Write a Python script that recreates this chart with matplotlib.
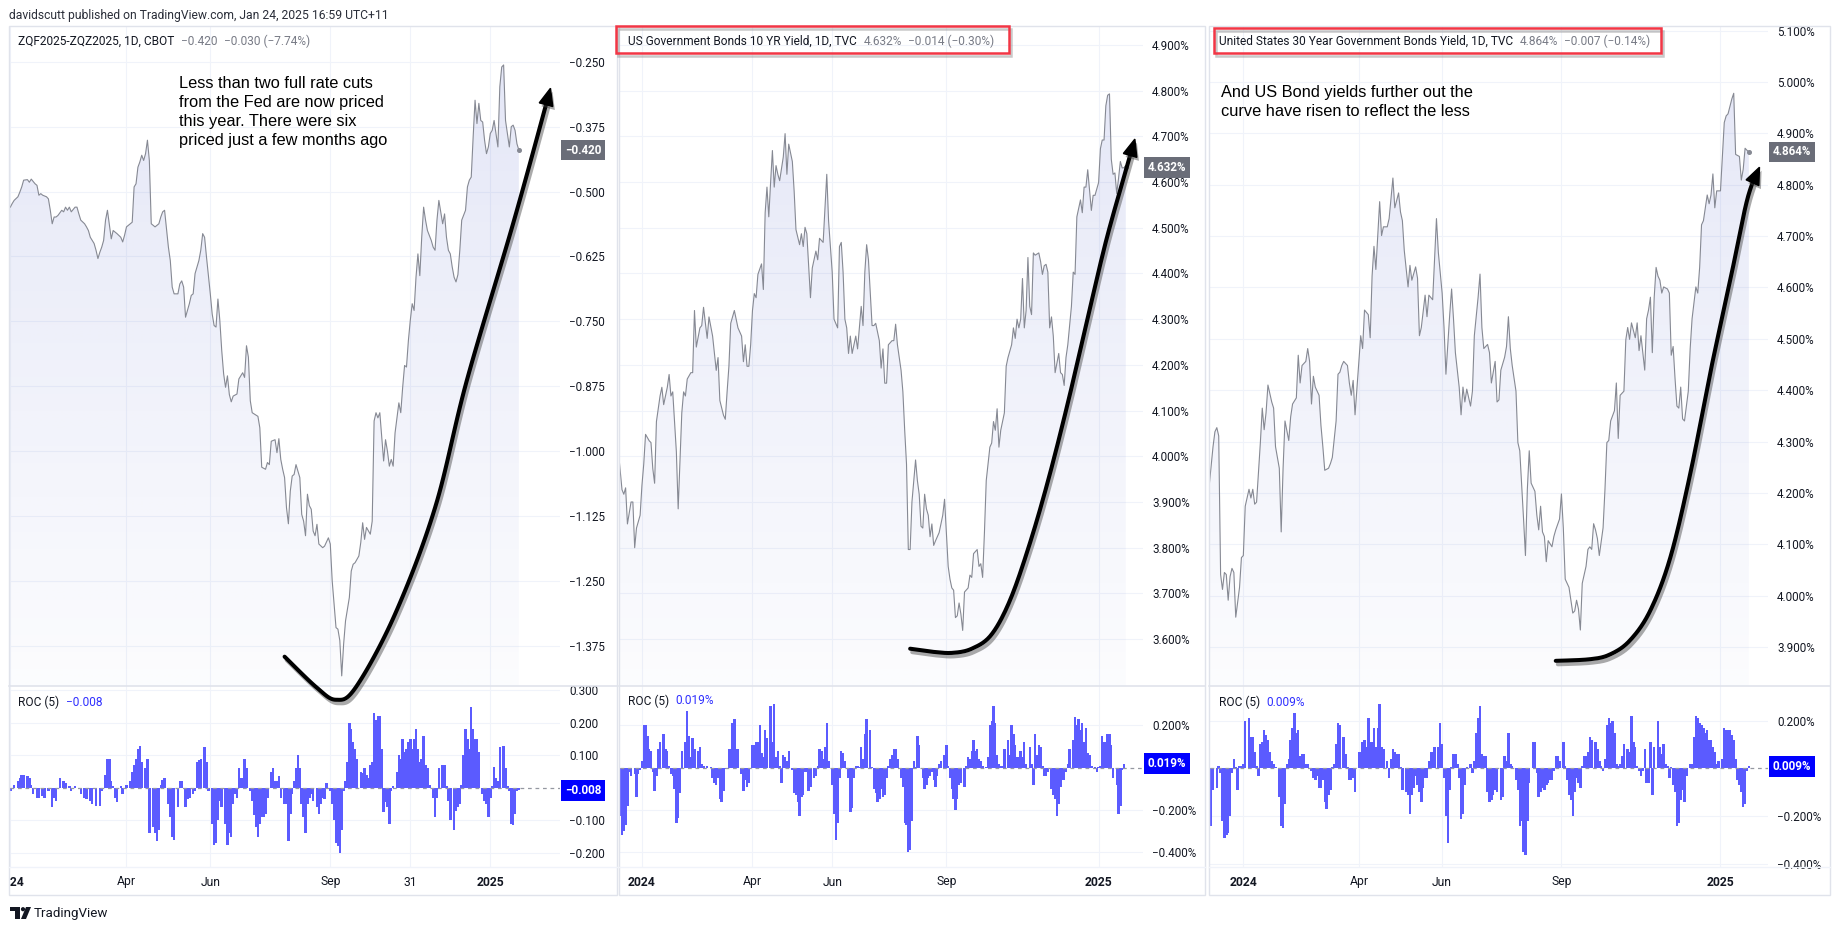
import numpy as np
import matplotlib
matplotlib.use("Agg")
import matplotlib.pyplot as plt
from matplotlib import patheffects as pe
from matplotlib import transforms
from matplotlib.patches import Rectangle, Polygon, Circle
from matplotlib.transforms import Bbox, TransformedBbox

W, H = 1841, 931
plt.rcParams["font.family"] = ["Roboto", "DejaVu Sans"]

# ---------------- data (trading-day index, 0 = first session of 2024) ----------------
zq_day = [0, 1, 2, 4, 5, 6, 7, 9, 10, 11, 13, 14, 15, 16, 17, 19, 20, 21, 22, 23, 24, 25, 27, 28, 29, 30,
          31, 32, 34, 35, 36, 37, 39, 40, 41, 42, 44, 45, 46, 47, 48, 49, 50, 51, 53, 54, 55, 56, 58, 59,
          60, 61, 63, 64, 65, 66, 67, 68, 69, 70, 71, 72, 73, 74, 75, 76, 78, 79, 80, 81, 83, 84, 85, 86,
          88, 89, 90, 91, 92, 94, 95, 96, 97, 99, 100, 101, 102, 103, 105, 106, 107, 108, 109, 110, 111,
          112, 113, 114, 115, 116, 117, 119, 120, 122, 123, 124, 125, 126, 127, 130, 131, 132, 134, 135,
          136, 137, 139, 140, 141, 142, 143, 144, 145, 146, 147, 148, 149, 150, 152, 153, 154, 155, 156,
          157, 158, 159, 160, 161, 162, 164, 165, 167, 168, 169, 171, 172, 173, 174, 175, 176, 178, 179,
          180, 181, 183, 184, 185, 186, 187, 189, 190, 191, 192, 193, 194, 196, 197, 198, 199, 200, 201,
          202, 203, 204, 205, 206, 207, 208, 209, 210, 211, 212, 213, 214, 215, 216, 217, 218, 219, 221,
          222, 223, 224, 225, 227, 228, 229, 230, 231, 232, 233, 234, 235, 236, 237, 239, 240, 241, 242,
          243, 244, 245, 246, 247, 248, 249, 250, 251, 252, 253, 254, 256, 257, 258, 259, 260, 262, 263,
          264, 265, 266, 267]
zq_val = [-0.530, -0.523, -0.517, -0.510, -0.501, -0.491, -0.478, -0.477, -0.482, -0.476, -0.485, -0.488,
          -0.507, -0.504, -0.507, -0.510, -0.514, -0.536, -0.562, -0.549, -0.549, -0.546, -0.536, -0.539,
          -0.530, -0.536, -0.530, -0.539, -0.530, -0.530, -0.543, -0.555, -0.562, -0.568, -0.575, -0.588,
          -0.600, -0.613, -0.629, -0.617, -0.607, -0.594, -0.555, -0.536, -0.591, -0.575, -0.578, -0.581,
          -0.588, -0.597, -0.584, -0.568, -0.562, -0.559, -0.491, -0.485, -0.453, -0.443, -0.430, -0.440,
          -0.427, -0.401, -0.440, -0.562, -0.565, -0.568, -0.562, -0.549, -0.539, -0.536, -0.607, -0.633,
          -0.684, -0.697, -0.697, -0.678, -0.672, -0.684, -0.742, -0.716, -0.700, -0.697, -0.658, -0.633,
          -0.613, -0.581, -0.588, -0.626, -0.697, -0.736, -0.758, -0.761, -0.707, -0.748, -0.806, -0.851,
          -0.877, -0.855, -0.891, -0.905, -0.894, -0.890, -0.861, -0.849, -0.858, -0.797, -0.819, -0.903,
          -0.926, -0.933, -0.955, -1.031, -1.035, -1.022, -1.026, -0.981, -0.978, -1.003, -0.976, -1.016,
          -1.035, -1.051, -1.109, -1.140, -1.077, -1.048, -1.045, -1.026, -1.051, -1.122, -1.135, -1.163,
          -1.083, -1.105, -1.112, -1.154, -1.163, -1.141, -1.179, -1.186, -1.183, -1.167, -1.179, -1.250,
          -1.340, -1.343, -1.365, -1.433, -1.372, -1.327, -1.282, -1.231, -1.218, -1.215, -1.202, -1.176,
          -1.138, -1.170, -1.147, -1.160, -1.135, -0.942, -0.926, -0.936, -0.926, -1.019, -0.978, -1.000,
          -1.029, -1.016, -1.029, -0.965, -0.936, -0.907, -0.926, -0.877, -0.835, -0.838, -0.787, -0.748,
          -0.716, -0.729, -0.665, -0.620, -0.662, -0.588, -0.530, -0.555, -0.575, -0.594, -0.607, -0.613,
          -0.555, -0.517, -0.562, -0.543, -0.588, -0.613, -0.620, -0.645, -0.665, -0.674, -0.660, -0.613,
          -0.555, -0.536, -0.491, -0.478, -0.472, -0.395, -0.324, -0.369, -0.330, -0.363, -0.366, -0.401,
          -0.427, -0.414, -0.388, -0.382, -0.363, -0.414, -0.298, -0.260, -0.256, -0.363, -0.414, -0.375,
          -0.372, -0.382, -0.408, -0.420]

zq_roc_day = [0, 2, 4, 5, 6, 7, 9, 10, 11, 12, 14, 15, 17, 18, 20, 22, 23, 24, 26, 28, 29, 31, 32, 34, 36,
              37, 39, 40, 42, 43, 45, 47, 48, 50, 51, 52, 53, 54, 55, 56, 58, 59, 61, 63, 64, 65, 66, 67,
              68, 69, 71, 72, 73, 75, 76, 77, 78, 79, 80, 81, 83, 84, 85, 86, 88, 89, 90, 92, 93, 94, 96,
              97, 98, 99, 100, 102, 103, 104, 106, 107, 108, 109, 110, 111, 113, 114, 115, 116, 117, 118,
              119, 120, 121, 122, 123, 124, 126, 127, 128, 129, 130, 131, 132, 133, 134, 135, 137, 138,
              139, 140, 141, 142, 144, 145, 146, 147, 148, 149, 150, 151, 152, 153, 154, 155, 156, 157,
              158, 159, 161, 162, 163, 164, 165, 166, 168, 169, 170, 171, 172, 173, 174, 175, 176, 177,
              178, 179, 180, 181, 182, 184, 185, 186, 187, 188, 189, 190, 191, 192, 193, 194, 195, 196,
              197, 198, 199, 200, 201, 203, 204, 205, 206, 207, 208, 209, 210, 211, 212, 213, 214, 215,
              216, 217, 218, 219, 220, 222, 223, 224, 225, 227, 228, 229, 230, 231, 233, 234, 235, 236,
              237, 238, 239, 240, 241, 242, 243, 244, 245, 246, 248, 249, 250, 251, 252, 253, 254, 255,
              256, 257, 259, 260, 261, 262, 263, 264, 265, 266, 267]
zq_roc = [-0.01, 0.01, 0.02, 0.03, 0.04, 0.04, 0.035, 0.03, 0.01, -0.02, -0.03, -0.03, -0.025, -0.03,
          -0.01, -0.06, -0.03, -0.04, 0.03, 0.02, 0.015, 0.005, -0.01, 0.005, -0.005, -0.02, -0.03, -0.035,
          -0.04, -0.05, -0.055, -0.055, -0.01, 0.04, 0.09, 0.09, 0.02, 0.005, -0.03, -0.045, 0.005, -0.02,
          0.01, 0.02, 0.05, 0.07, 0.09, 0.12, 0.13, 0.08, 0.06, 0.09, -0.14, -0.12, -0.14, -0.165, -0.13,
          0.01, 0.025, 0.03, -0.05, -0.09, -0.15, -0.16, -0.06, 0.02, 0.02, -0.06, -0.035, -0.03, -0.02,
          -0.01, 0.08, 0.085, 0.09, 0.125, 0.08, -0.01, -0.11, -0.175, -0.17, -0.10, -0.04, -0.06, -0.11,
          -0.175, -0.14, -0.15, -0.05, -0.02, -0.03, 0.06, 0.03, 0.03, 0.09, 0.06, -0.01, -0.04, -0.085,
          -0.12, -0.15, -0.11, -0.09, -0.09, -0.08, -0.03, 0.05, 0.06, 0.02, 0.02, 0.035, -0.03, -0.05,
          -0.05, -0.165, -0.08, -0.02, 0.02, 0.06, 0.10, 0.06, -0.05, -0.09, -0.14, -0.05, -0.03, -0.02,
          -0.04, -0.06, -0.08, -0.05, -0.03, -0.035, 0.015, -0.01, -0.05, -0.10, -0.17, -0.18, -0.20,
          -0.13, -0.01, 0.02, 0.08, 0.20, 0.18, 0.14, 0.12, 0.09, 0.05, 0.045, 0.06, 0.04, 0.03, 0.07,
          0.08, 0.23, 0.21, 0.22, 0.22, 0.12, -0.075, -0.045, -0.06, -0.11, -0.01, 0.005, 0.05, 0.10,
          0.09, 0.15, 0.11, 0.12, 0.14, 0.15, 0.12, 0.15, 0.18, 0.12, 0.08, 0.09, 0.16, 0.07, 0.06, 0.01,
          -0.03, -0.09, -0.03, 0.06, 0.07, 0.07, 0.005, -0.04, -0.10, -0.13, -0.07, -0.06, -0.05, 0.01,
          0.10, 0.18, 0.15, 0.12, 0.25, 0.18, 0.15, 0.15, 0.11, -0.02, -0.04, -0.05, -0.09, -0.03, 0.005,
          0.065, 0.03, 0.02, 0.125, 0.13, 0.06, 0.005, -0.01, -0.11, -0.115, -0.08, -0.01, -0.008]

us10_day = [-13, -11, -10, -9, -8, -6, -5, -4, -3, -1, 0, 1, 2, 4, 5, 6, 7, 8, 10, 11, 12, 14, 15, 16, 17,
            18, 19, 20, 22, 23, 24, 25, 27, 28, 29, 30, 32, 33, 34, 36, 37, 39, 41, 42, 43, 45, 46, 47, 48,
            49, 51, 53, 55, 56, 57, 58, 59, 60, 61, 62, 63, 64, 66, 67, 68, 69, 70, 71, 72, 73, 74, 75, 76,
            78, 79, 80, 81, 83, 84, 85, 87, 88, 89, 90, 91, 93, 94, 96, 97, 98, 100, 101, 102, 103, 105,
            106, 108, 109, 110, 111, 112, 113, 114, 115, 116, 118, 119, 121, 122, 123, 124, 125, 127, 128,
            129, 131, 132, 133, 134, 135, 136, 138, 139, 140, 141, 143, 144, 145, 146, 147, 148, 149, 150,
            151, 152, 153, 154, 155, 156, 157, 158, 159, 160, 161, 162, 163, 164, 166, 167, 168, 169, 170,
            171, 172, 173, 174, 175, 176, 177, 178, 180, 181, 182, 183, 185, 186, 187, 188, 189, 190, 192,
            193, 194, 195, 196, 197, 198, 200, 201, 202, 204, 205, 206, 207, 208, 209, 210, 211, 212, 213,
            214, 215, 216, 217, 219, 220, 221, 222, 223, 224, 225, 226, 227, 228, 230, 231, 232, 233, 234,
            235, 237, 238, 239, 240, 242, 243, 244, 245, 246, 248, 249, 250, 252, 253, 254, 255, 256, 257,
            258, 259, 260, 261, 262, 263, 264, 265, 267]
us10_val = [4.011, 3.927, 3.917, 3.931, 3.852, 3.900, 3.900, 3.800, 3.843, 3.871, 3.936, 3.983, 4.048,
            4.034, 4.030, 3.973, 3.941, 4.076, 4.132, 4.151, 4.113, 4.151, 4.179, 4.132, 4.141, 4.076,
            4.010, 3.885, 4.095, 4.141, 4.132, 4.169, 4.183, 4.183, 4.319, 4.239, 4.281, 4.286, 4.326,
            4.258, 4.305, 4.263, 4.188, 4.216, 4.122, 4.090, 4.081, 4.141, 4.197, 4.291, 4.319, 4.281,
            4.263, 4.207, 4.244, 4.197, 4.197, 4.244, 4.319, 4.356, 4.347, 4.398, 4.421, 4.365, 4.533,
            4.589, 4.524, 4.599, 4.669, 4.589, 4.636, 4.617, 4.603, 4.655, 4.706, 4.617, 4.683, 4.645,
            4.580, 4.496, 4.463, 4.487, 4.459, 4.501, 4.487, 4.347, 4.412, 4.449, 4.430, 4.477, 4.468,
            4.543, 4.617, 4.515, 4.403, 4.300, 4.281, 4.459, 4.468, 4.403, 4.300, 4.281, 4.225, 4.263,
            4.225, 4.263, 4.235, 4.328, 4.286, 4.403, 4.463, 4.430, 4.286, 4.286, 4.291, 4.253, 4.193,
            4.235, 4.160, 4.160, 4.244, 4.253, 4.253, 4.289, 4.244, 4.188, 4.141, 4.057, 3.983, 3.796,
            3.796, 3.900, 3.947, 3.992, 3.947, 3.917, 3.847, 3.843, 3.917, 3.885, 3.871, 3.824, 3.852,
            3.805, 3.815, 3.824, 3.833, 3.871, 3.906, 3.833, 3.759, 3.731, 3.712, 3.707, 3.647, 3.651,
            3.679, 3.655, 3.619, 3.703, 3.712, 3.740, 3.735, 3.787, 3.796, 3.759, 3.765, 3.735, 3.833,
            3.947, 4.020, 4.029, 4.076, 4.057, 4.104, 4.020, 4.057, 4.095, 4.197, 4.216, 4.244, 4.281,
            4.258, 4.300, 4.281, 4.300, 4.389, 4.281, 4.319, 4.435, 4.328, 4.310, 4.445, 4.440, 4.445,
            4.426, 4.398, 4.417, 4.420, 4.403, 4.281, 4.305, 4.263, 4.183, 4.225, 4.183, 4.179, 4.155,
            4.216, 4.244, 4.328, 4.403, 4.398, 4.524, 4.561, 4.533, 4.589, 4.589, 4.627, 4.538, 4.571,
            4.571, 4.599, 4.673, 4.692, 4.692, 4.767, 4.790, 4.793, 4.650, 4.617, 4.620, 4.575, 4.608,
            4.645, 4.631, 4.632]

us10_roc_day = [-12, -11, -10, -9, -8, -7, -6, -4, -3, -2, -1, 0, 1, 2, 3, 4, 5, 6, 7, 8, 9, 10, 12, 13,
                14, 15, 16, 17, 18, 19, 20, 21, 22, 24, 25, 26, 27, 28, 29, 31, 32, 33, 34, 36, 38, 39,
                40, 41, 42, 43, 44, 45, 46, 48, 49, 50, 51, 52, 53, 55, 56, 57, 58, 59, 61, 62, 63, 64,
                65, 66, 67, 68, 69, 71, 72, 73, 74, 75, 76, 77, 78, 79, 80, 81, 83, 84, 85, 86, 87, 88,
                89, 90, 91, 92, 93, 95, 96, 97, 98, 99, 100, 101, 102, 103, 105, 106, 107, 108, 109, 110,
                111, 112, 114, 115, 116, 117, 118, 119, 120, 121, 122, 123, 124, 126, 127, 128, 129, 130,
                131, 132, 133, 134, 135, 136, 137, 138, 139, 140, 141, 143, 144, 145, 146, 147, 148, 149,
                150, 151, 152, 153, 155, 156, 157, 158, 159, 160, 161, 162, 163, 164, 165, 167, 168, 169,
                170, 171, 172, 173, 174, 175, 176, 178, 179, 180, 181, 182, 183, 184, 185, 186, 187, 188,
                190, 191, 192, 193, 194, 195, 196, 197, 198, 199, 200, 202, 203, 204, 205, 206, 207, 208,
                209, 210, 211, 212, 214, 215, 216, 217, 218, 219, 220, 221, 222, 223, 224, 226, 227, 228,
                229, 230, 231, 232, 233, 234, 235, 236, 238, 239, 240, 241, 242, 243, 244, 245, 246, 247,
                248, 250, 251, 252, 253, 254, 255, 256, 257, 258, 259, 260, 262, 263, 264, 265, 266]
us10_roc = [-0.23, -0.32, -0.30, -0.27, -0.18, -0.02, -0.04, -0.03, -0.14, -0.03, -0.01, 0.03, 0.20, 0.20,
            0.15, 0.09, 0.08, -0.02, -0.11, -0.04, 0.09, 0.12, 0.16, 0.09, 0.08, 0.01, -0.03, -0.04, -0.10,
            -0.26, -0.24, -0.12, 0.08, 0.12, 0.27, 0.15, 0.05, 0.14, 0.09, 0.08, 0.10, 0.02, 0.01, 0.01,
            0.005, -0.05, -0.07, -0.08, -0.05, -0.15, -0.16, -0.11, -0.005, 0.09, 0.09, 0.21, 0.23, 0.09,
            0.09, -0.03, -0.11, -0.06, -0.09, -0.07, 0.11, 0.11, 0.12, 0.12, 0.20, 0.07, 0.05, 0.18, 0.14,
            0.29, 0.12, 0.30, 0.05, 0.08, 0.01, -0.07, 0.06, 0.05, 0.03, 0.08, -0.01, -0.12, -0.13, -0.16,
            -0.23, -0.14, -0.13, -0.02, -0.02, -0.11, -0.09, -0.05, -0.04, 0.01, 0.09, 0.08, 0.04, 0.10,
            0.21, 0.03, -0.08, -0.22, -0.34, -0.26, -0.05, 0.08, 0.07, 0.03, -0.05, -0.21, -0.19, -0.05,
            0.01, 0.01, 0.005, 0.10, 0.04, 0.16, 0.23, 0.18, 0.005, -0.10, -0.12, -0.16, -0.15, -0.10,
            -0.14, -0.13, -0.05, 0.01, 0.04, 0.06, 0.09, 0.09, 0.04, -0.05, -0.09, -0.26, -0.27, -0.40,
            -0.39, -0.25, 0.03, 0.005, 0.15, 0.11, -0.05, -0.10, -0.08, -0.05, -0.04, -0.02, -0.06, -0.09,
            -0.04, 0.02, 0.03, 0.06, 0.11, 0.01, -0.05, -0.10, -0.15, -0.20, -0.15, -0.08, -0.07, -0.09,
            0.01, 0.05, 0.04, 0.08, 0.13, 0.08, 0.09, 0.04, 0.03, 0.01, 0.005, 0.05, 0.20, 0.22, 0.29, 0.21,
            0.06, 0.02, 0.01, 0.01, 0.09, 0.13, 0.06, 0.20, 0.16, 0.11, 0.05, 0.05, 0.08, 0.05, 0.12, 0.02,
            0.10, 0.02, -0.08, 0.16, 0.06, 0.11, 0.10, 0.01, -0.04, -0.04, -0.02, -0.10, -0.13, -0.15,
            -0.23, -0.17, -0.09, -0.06, -0.06, -0.02, 0.02, 0.09, 0.13, 0.24, 0.20, 0.23, 0.18, 0.21, 0.12,
            0.19, 0.07, 0.06, 0.01, 0.005, -0.02, 0.005, 0.01, 0.15, 0.12, 0.12, 0.16, 0.16, 0.11, -0.05,
            -0.08, -0.22, -0.18, -0.01, 0.019]

us30_day = [-18, -16, -15, -14, -13, -12, -11, -10, -9, -8, -7, -6, -5, -4, -2, -1, 0, 1, 3, 4, 5, 6, 7, 9,
            10, 11, 12, 13, 15, 16, 17, 19, 20, 21, 22, 24, 25, 26, 28, 29, 30, 31, 33, 34, 35, 36, 37, 38,
            40, 41, 42, 43, 45, 46, 47, 49, 50, 51, 52, 53, 55, 56, 57, 58, 59, 61, 62, 63, 64, 66, 67, 68,
            69, 70, 72, 73, 74, 76, 77, 79, 80, 82, 83, 84, 85, 87, 88, 89, 91, 92, 93, 94, 96, 97, 98,
            100, 101, 102, 103, 105, 106, 107, 109, 110, 111, 112, 114, 115, 116, 117, 118, 120, 121, 122,
            124, 125, 126, 127, 129, 130, 131, 133, 134, 135, 136, 138, 139, 140, 141, 142, 144, 145, 146,
            148, 149, 150, 151, 152, 154, 155, 156, 157, 158, 159, 160, 161, 163, 164, 165, 167, 168, 169,
            170, 171, 172, 174, 175, 176, 177, 178, 179, 181, 182, 183, 184, 185, 186, 187, 188, 190, 191,
            192, 193, 194, 196, 197, 198, 199, 201, 202, 203, 204, 205, 207, 208, 209, 210, 212, 213, 214,
            215, 216, 217, 218, 219, 220, 221, 222, 224, 225, 226, 227, 228, 229, 230, 231, 232, 233, 235,
            236, 237, 239, 240, 241, 242, 243, 245, 246, 247, 248, 249, 250, 252, 253, 254, 255, 256, 258,
            259, 260, 262, 263, 264, 265, 266, 267]
us30_val = [4.215, 4.290, 4.319, 4.327, 4.311, 4.041, 4.012, 4.045, 4.041, 3.991, 4.037, 4.053, 4.045,
            3.958, 4.016, 4.074, 4.078, 4.174, 4.207, 4.190, 4.207, 4.178, 4.182, 4.298, 4.365, 4.323,
            4.356, 4.410, 4.377, 4.365, 4.290, 4.248, 4.124, 4.248, 4.340, 4.302, 4.348, 4.373, 4.385,
            4.468, 4.414, 4.448, 4.456, 4.481, 4.456, 4.373, 4.427, 4.406, 4.390, 4.331, 4.290, 4.244,
            4.248, 4.257, 4.269, 4.340, 4.431, 4.435, 4.448, 4.456, 4.448, 4.414, 4.390, 4.419, 4.352,
            4.456, 4.506, 4.481, 4.556, 4.547, 4.502, 4.622, 4.680, 4.635, 4.767, 4.701, 4.718, 4.718,
            4.734, 4.813, 4.755, 4.784, 4.747, 4.730, 4.672, 4.601, 4.643, 4.614, 4.640, 4.618, 4.506,
            4.522, 4.585, 4.543, 4.585, 4.576, 4.655, 4.734, 4.668, 4.589, 4.522, 4.431, 4.547, 4.597,
            4.539, 4.473, 4.406, 4.352, 4.406, 4.377, 4.402, 4.369, 4.398, 4.506, 4.581, 4.626, 4.522,
            4.481, 4.489, 4.473, 4.414, 4.456, 4.377, 4.381, 4.439, 4.464, 4.485, 4.543, 4.481, 4.448,
            4.398, 4.298, 4.282, 4.149, 4.078, 4.207, 4.282, 4.219, 4.203, 4.157, 4.128, 4.174, 4.124,
            4.115, 4.066, 4.107, 4.095, 4.115, 4.128, 4.149, 4.198, 4.132, 4.032, 4.024, 4.016, 3.966,
            3.970, 3.991, 3.974, 3.933, 4.024, 4.057, 4.090, 4.095, 4.090, 4.140, 4.128, 4.111, 4.078,
            4.132, 4.207, 4.298, 4.302, 4.340, 4.360, 4.414, 4.306, 4.390, 4.398, 4.498, 4.522, 4.499,
            4.531, 4.502, 4.531, 4.477, 4.506, 4.439, 4.539, 4.556, 4.581, 4.473, 4.581, 4.639, 4.622,
            4.614, 4.589, 4.601, 4.597, 4.589, 4.468, 4.485, 4.423, 4.369, 4.365, 4.406, 4.344, 4.340,
            4.398, 4.481, 4.539, 4.601, 4.589, 4.639, 4.722, 4.730, 4.780, 4.763, 4.780, 4.821, 4.755,
            4.788, 4.788, 4.855, 4.921, 4.934, 4.938, 4.967, 4.978, 4.859, 4.855, 4.809, 4.830, 4.871,
            4.867, 4.864]

us30_roc_day = [-17, -16, -14, -13, -12, -11, -10, -9, -8, -7, -6, -5, -4, -3, -2, -1, 0, 1, 3, 4, 5, 6,
                7, 8, 9, 10, 11, 12, 13, 14, 15, 16, 17, 19, 20, 21, 22, 23, 24, 25, 26, 27, 28, 29, 30,
                31, 32, 33, 34, 36, 37, 38, 39, 40, 41, 42, 43, 44, 45, 46, 47, 48, 49, 50, 51, 53, 54,
                55, 56, 57, 58, 59, 61, 62, 63, 64, 65, 66, 67, 68, 69, 70, 71, 72, 73, 74, 76, 77, 78,
                79, 80, 81, 82, 83, 84, 86, 87, 88, 89, 90, 91, 92, 93, 94, 95, 96, 97, 98, 99, 100, 101,
                103, 104, 105, 106, 107, 108, 109, 110, 111, 112, 113, 114, 115, 116, 117, 118, 120, 121,
                122, 123, 124, 125, 126, 127, 128, 129, 130, 131, 132, 133, 134, 136, 137, 138, 139, 140,
                141, 142, 144, 145, 146, 147, 148, 149, 150, 151, 153, 154, 155, 156, 157, 158, 159, 160,
                161, 162, 163, 164, 165, 166, 167, 169, 170, 171, 172, 173, 174, 175, 176, 177, 178, 179,
                180, 181, 182, 183, 184, 186, 187, 188, 189, 190, 191, 192, 193, 194, 195, 196, 197, 198,
                199, 200, 201, 203, 204, 205, 206, 207, 208, 209, 210, 211, 212, 213, 214, 215, 216, 217,
                219, 220, 221, 222, 223, 224, 225, 226, 227, 228, 229, 230, 231, 232, 233, 234, 236, 237,
                238, 239, 240, 241, 242, 243, 244, 245, 246, 247, 248, 249, 250, 251, 253, 254, 255, 256,
                257, 258, 259, 260, 261, 262, 263, 264, 265, 266, 267]
us30_roc = [-0.24, -0.09, -0.08, 0.01, -0.02, -0.22, -0.29, -0.28, -0.27, -0.20, -0.02, 0.04, 0.005, -0.09,
            0.01, 0.01, 0.02, 0.20, 0.21, 0.13, 0.13, 0.07, 0.01, -0.03, 0.10, 0.11, 0.16, 0.14, 0.12, 0.07,
            0.03, 0.02, 0.005, -0.12, -0.24, -0.25, -0.15, 0.02, 0.04, 0.12, 0.17, 0.23, 0.15, 0.16, 0.05,
            0.06, 0.06, 0.02, 0.02, -0.01, -0.04, -0.05, -0.03, -0.08, -0.08, -0.05, -0.14, -0.17, -0.11,
            -0.09, 0.005, 0.02, 0.10, 0.19, 0.18, 0.13, 0.06, 0.005, -0.05, -0.05, -0.04, -0.10, 0.07, 0.07,
            0.11, 0.12, 0.09, 0.21, 0.11, 0.11, 0.17, 0.09, 0.17, 0.27, 0.09, 0.08, 0.03, -0.04, 0.04, 0.08,
            0.07, 0.06, 0.06, 0.005, -0.09, -0.10, -0.11, -0.19, -0.11, -0.08, -0.03, -0.07, -0.10, -0.14,
            -0.08, -0.04, -0.04, 0.03, 0.07, 0.07, 0.09, 0.09, 0.19, 0.10, -0.04, -0.20, -0.31, -0.09,
            0.005, 0.06, 0.06, 0.02, -0.04, -0.21, -0.19, -0.07, 0.005, 0.02, -0.02, 0.03, 0.15, 0.21, 0.26,
            0.06, 0.05, 0.05, -0.10, -0.14, -0.13, -0.11, -0.09, -0.10, -0.13, -0.12, 0.05, 0.03, 0.15,
            0.02, 0.01, -0.05, -0.09, -0.24, -0.22, -0.35, -0.36, -0.22, -0.06, 0.11, 0.11, -0.02, -0.12,
            -0.10, -0.08, -0.09, -0.07, -0.06, -0.05, -0.05, -0.01, 0.05, 0.05, 0.03, 0.11, 0.01, -0.05,
            -0.11, -0.13, -0.20, -0.10, -0.04, -0.06, -0.08, 0.01, 0.05, 0.05, 0.07, 0.13, 0.12, 0.11, 0.08,
            0.03, 0.01, -0.01, 0.04, 0.18, 0.21, 0.19, 0.20, 0.15, 0.02, 0.01, 0.02, 0.05, 0.10, 0.08, 0.07,
            0.22, 0.11, 0.09, 0.01, -0.01, -0.03, -0.01, 0.08, -0.06, -0.06, 0.11, -0.11, 0.09, 0.20, 0.09,
            0.06, 0.10, 0.02, 0.01, -0.04, 0.005, -0.07, -0.10, -0.24, -0.23, -0.13, -0.09, -0.14, -0.03,
            0.02, 0.02, 0.13, 0.22, 0.21, 0.19, 0.18, 0.17, 0.15, 0.16, 0.12, 0.12, 0.09, 0.07, 0.02, 0.03,
            0.04, 0.17, 0.16, 0.16, 0.16, 0.14, 0.12, 0.04, -0.05, -0.07, -0.10, -0.16, -0.15, -0.01, 0.009]

zq_ticks = [-0.25, -0.375, -0.5, -0.625, -0.75, -0.875, -1.0, -1.125, -1.25, -1.375]
us10_ticks = [4.9, 4.8, 4.7, 4.6, 4.5, 4.4, 4.3, 4.2, 4.1, 4.0, 3.9, 3.8, 3.7, 3.6]
us30_ticks = [5.1, 5.0, 4.9, 4.8, 4.7, 4.6, 4.5, 4.4, 4.3, 4.2, 4.1, 4.0, 3.9]
zq_roc_ticks = [0.3, 0.2, 0.1, -0.1, -0.2]
bond_roc_ticks = [0.2, -0.2, -0.4]

zq_dates = [0, 61, 105, 168, 210, 252]
zq_date_labels = ["2024", "Apr", "Jun", "Sep", "31", "2025"]
bond_dates = [0, 61, 105, 168, 252]
bond_date_labels = ["2024", "Apr", "Jun", "Sep", "2025"]

# ---------------- style ----------------
TXT = "#131722"
GREY = "#787b86"
GRID = "#f0f3fa"
BORDER = "#e0e3eb"
LINE = "#868993"
BARS = "#5b5bff"
FILL = (0.36, 0.42, 0.80)
TOP, SEP, BOT, FRAME_BOT = 26, 686, 867, 895


def fx(x):
    return x / W


def fy(y):
    return 1 - y / H


def minus(s):
    return s.replace("-", "\u2212")


fig = plt.figure(figsize=(W / 100, H / 100), dpi=100)
fig.patch.set_facecolor("white")
ov = fig.add_axes([0, 0, 1, 1], zorder=10)
ov.set_xlim(0, W)
ov.set_ylim(H, 0)
ov.axis("off")
ov.patch.set_alpha(0)
renderer = fig.canvas.get_renderer()


def catmull(pts, n=16):
    p = np.vstack([pts[0], pts, pts[-1]])
    out = []
    t = np.linspace(0, 1, n, endpoint=False)[:, None]
    for i in range(1, len(p) - 2):
        p0, p1, p2, p3 = p[i - 1], p[i], p[i + 1], p[i + 2]
        out.append(0.5 * (2 * p1 + (-p0 + p2) * t + (2 * p0 - 5 * p1 + 4 * p2 - p3) * t ** 2
                          + (-p0 + 3 * p1 - 3 * p2 + p3) * t ** 3))
    out.append(p[-2][None])
    return np.vstack(out)


def draw_arrow(ax, pts):
    d = ax.transData.transform(np.asarray(pts, float))
    d[:, 1] = H - d[:, 1]
    c = catmull(d)
    tip = c[-1]
    u = tip - c[-6]
    u = u / np.hypot(*u)
    base = tip - u * 17
    keep = c[((c - base) @ u) < 0]
    line = np.vstack([keep, base])
    shadow = [pe.SimpleLineShadow(offset=(1.5, -2.5), shadow_color="#444", alpha=0.45), pe.Normal()]
    ov.plot(line[:, 0], line[:, 1], color="black", lw=2.9, solid_capstyle="round",
            path_effects=shadow, zorder=5)
    nrm = np.array([-u[1], u[0]])
    head = np.array([tip, base + nrm * 7, base - nrm * 7])
    ov.add_patch(Polygon(head, closed=True, fc="black", ec="black", lw=1, zorder=6,
                         path_effects=[pe.SimplePatchShadow(offset=(1.5, -2.5), shadow_rgbFace="#444",
                                                            alpha=0.45), pe.Normal()]))


def text_run(x, y, parts, size=8.6, gap=6.5):
    for s, c in parts:
        t = fig.text(fx(x), fy(y), s, color=c, fontsize=size, va="center", ha="left")
        x += t.get_window_extent(renderer).width + gap


def tag(ax, y, s, fc):
    tr = transforms.offset_copy(transforms.blended_transform_factory(ax.transAxes, ax.transData),
                                fig=fig, x=5, y=0, units="dots")
    ax.text(1.0, y, s, transform=tr, ha="left", va="center", color="white", fontsize=8.4,
            fontweight="bold", zorder=8, clip_on=False,
            bbox=dict(boxstyle="square,pad=0.32", fc=fc, ec="none"))


def panel(x0, x1, frame_x1, day, val, xlim, plim, pticks, pfmt, rday, roc, rlim, rticks, rfmt,
          dates, date_labels, last_txt, roc_txt):
    axp = fig.add_axes([fx(x0), fy(SEP), (x1 - x0) / W, (SEP - TOP) / H])
    axr = fig.add_axes([fx(x0), fy(BOT), (x1 - x0) / W, (BOT - SEP) / H])
    for ax in (axp, axr):
        ax.set_xlim(*xlim)
        for s in ax.spines.values():
            s.set_visible(False)
        ax.yaxis.tick_right()
        ax.set_xticks(dates)
        ax.tick_params(length=0, labelsize=8.4, labelcolor=TXT, pad=6.5)
        ax.tick_params(axis="x", labelbottom=False)
        ax.grid(True, color=GRID, lw=0.8)
        ax.set_axisbelow(True)

    # price pane with vertical gradient area
    axp.set_ylim(*plim)
    axp.set_yticks(pticks)
    axp.set_yticklabels([pfmt(v) for v in pticks])
    g = np.zeros((256, 1, 4))
    g[..., 0], g[..., 1], g[..., 2] = FILL
    g[:, 0, 3] = np.linspace(0.17, 0.02, 256)
    fill = axp.fill_between(day, val, plim[0], color="none", lw=0)
    im = axp.imshow(g, extent=[xlim[0], xlim[1], plim[0], plim[1]], aspect="auto", origin="upper",
                    zorder=1, interpolation="bilinear")
    im.set_clip_path(fill.get_paths()[0], transform=axp.transData)
    axp.plot(day, val, color=LINE, lw=0.8, zorder=2)
    axp.plot(day[-1], val[-1], "o", ms=2.6, color=LINE, zorder=3)
    axp.set_xlim(*xlim)
    axp.set_ylim(*plim)
    tag(axp, val[-1], last_txt, "#6a6d78")

    # ROC pane
    axr.set_ylim(*rlim)
    axr.set_yticks(rticks)
    axr.set_yticklabels([rfmt(v) for v in rticks])
    axr.bar(rday, roc, width=1.3, color=BARS, lw=0, zorder=2)
    axr.axhline(0, color="#9598a1", lw=0.9, ls=(0, (3, 3)), zorder=3)
    tag(axr, roc[-1], roc_txt, "#0000ff")

    # time scale labels, clipped to the panel frame
    clip = TransformedBbox(Bbox.from_extents(fx(x0), fy(FRAME_BOT), fx(frame_x1), fy(TOP)),
                           fig.transFigure)
    tr = transforms.blended_transform_factory(axr.transData, axr.transAxes)
    for d, s in zip(dates, date_labels):
        bold = s.isdigit() and len(s) == 4
        t = axr.text(d, -15 / (BOT - SEP), s, transform=tr, ha="center", va="center", fontsize=8.7,
                     color=TXT, fontweight="bold" if bold else "normal", clip_on=True)
        t.set_clip_box(clip)

    # frame and pane separators
    ov.add_patch(Rectangle((x0 - 1, TOP), frame_x1 - x0 + 1, FRAME_BOT - TOP, fill=False, ec=BORDER, lw=1))
    ov.plot([x0 - 1, frame_x1], [SEP, SEP], color=BORDER, lw=1.2)
    ov.plot([x0 - 1, frame_x1], [BOT, BOT], color="#f0f3fa", lw=1)
    return axp, axr


fmt3 = lambda v: minus(f"{v:.3f}")
fmtp = lambda v: minus(f"{v:.3f}%")

ax1, r1 = panel(10, 560, 617, zq_day, zq_val, (-0.16, 288.6), (-1.4525, -0.181), zq_ticks, fmt3,
                zq_roc_day, zq_roc, (-0.2437, 0.3136), zq_roc_ticks, fmt3,
                zq_dates, zq_date_labels, "\u22120.420", "\u22120.008")
ax2, r2 = panel(620, 1143, 1205, us10_day, us10_val, (-12.1, 276.5), (3.4974, 4.9415), us10_ticks, fmtp,
                us10_roc_day, us10_roc, (-0.470, 0.387), bond_roc_ticks, fmtp,
                bond_dates, bond_date_labels, "4.632%", "0.019%")
ax3, r3 = panel(1210, 1768, 1830, us30_day, us30_val, (-17.6, 277.1), (3.824, 5.109), us30_ticks, fmtp,
                us30_roc_day, us30_roc, (-0.412, 0.3445), bond_roc_ticks, fmtp,
                bond_dates, bond_date_labels, "4.864%", "0.009%")

# hand-drawn arrows (data-space control points)
draw_arrow(ax1, [(144, -1.396), (160.7, -1.455), (171, -1.479), (181.4, -1.455), (202, -1.314),
                 (223, -1.109), (239.6, -0.865), (264.5, -0.555), (283.6, -0.301)])
draw_arrow(ax2, [(148, 3.579), (161, 3.572), (171.6, 3.570), (182, 3.579), (192.7, 3.609), (203, 3.684),
                 (213.7, 3.805), (224, 3.945), (234.8, 4.113), (245.3, 4.291), (255.9, 4.468),
                 (266.4, 4.617), (272, 4.694)])
draw_arrow(ax3, [(165, 3.873), (182.7, 3.876), (193.4, 3.885), (204, 3.912), (214.8, 3.970),
                 (225.5, 4.074), (236.2, 4.240), (246.9, 4.439), (257.6, 4.622), (266.2, 4.772),
                 (272.6, 4.834)])

# red highlight boxes around the bond legends (outline with a soft outline shadow)
for (bx0, by0, bx1, by1) in [(616, 26, 1009, 53), (1214, 28, 1661, 53)]:
    ov.add_patch(Rectangle((bx0, by0), bx1 - bx0, by1 - by0, fill=False, ec="#f23645", lw=1.8, zorder=4,
                           path_effects=[pe.SimpleLineShadow(offset=(1.5, -2.5), shadow_color="#888",
                                                             alpha=0.45), pe.Normal()]))

# legends
text_run(18, 41.5, [("ZQF2025-ZQZ2025, 1D, CBOT", TXT), ("\u22120.420", GREY), ("\u22120.030 (\u22127.74%)", GREY)])
text_run(628, 41.5, [("US Government Bonds 10 YR Yield, 1D, TVC", TXT), ("4.632%", GREY),
                     ("\u22120.014 (\u22120.30%)", GREY)])
text_run(1219, 41.5, [("United States 30 Year Government Bonds Yield, 1D, TVC", TXT), ("4.864%", GREY),
                      ("\u22120.007 (\u22120.14%)", GREY)])
text_run(18, 702.5, [("ROC (5)", TXT), ("\u22120.008", "#2f2fff")])
text_run(628, 701, [("ROC (5)", TXT), ("0.019%", "#2f2fff")])
text_run(1219, 702, [("ROC (5)", TXT), ("0.009%", "#2f2fff")])

# commentary
fig.text(fx(179), fy(76), "Less than two full rate cuts\nfrom the Fed are now priced\nthis year. There were six\n"
         "priced just a few months ago", family="Liberation Sans", fontsize=11.8, color="black",
         va="top", ha="left", linespacing=1.33)
fig.text(fx(1221), fy(85), "And US Bond yields further out the\ncurve have risen to reflect the less",
         family="Liberation Sans", fontsize=11.8, color="black", va="top", ha="left", linespacing=1.3)

# header and footer
fig.text(fx(9), fy(15), "davidscutt published on TradingView.com, Jan 24, 2025 16:59 UTC+11",
         fontsize=8.7, color="#2a2e39", va="center", ha="left")
ov.add_patch(Polygon([(10, 907), (20, 907), (20, 919), (15.5, 919), (15.5, 911), (10, 911)], closed=True,
                     fc=TXT, ec="none"))
ov.add_patch(Circle((23, 909.2), 2.1, fc=TXT, ec="none"))
ov.add_patch(Polygon([(26, 907), (31, 907), (26, 919), (21, 919)], closed=True, fc=TXT, ec="none"))
fig.text(fx(34), fy(913), "TradingView", fontsize=9.6, color=TXT, va="center", ha="left")

fig.savefig("out.png", dpi=100, facecolor="white")
